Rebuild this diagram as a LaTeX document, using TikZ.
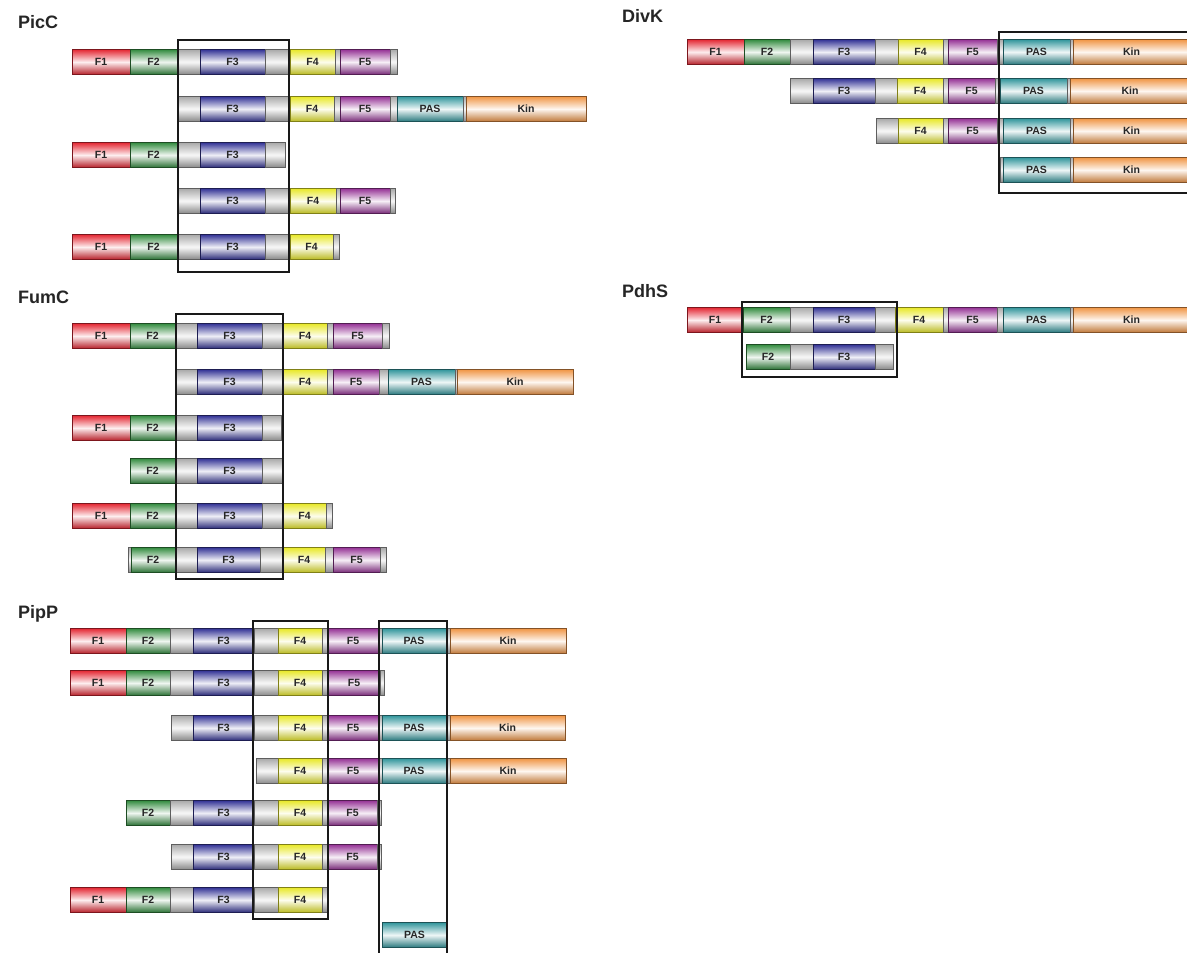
\documentclass[tikz,border=0pt]{standalone}
\usepackage{fontspec}
\setmainfont{Liberation Sans}
\definecolor{cF1}{RGB}{228,40,52}
\definecolor{cF2}{RGB}{52,140,64}
\definecolor{cF3}{RGB}{52,52,150}
\definecolor{cF4}{RGB}{232,232,40}
\definecolor{cF5}{RGB}{150,52,150}
\definecolor{cPAS}{RGB}{50,150,156}
\definecolor{cKin}{RGB}{240,150,70}
\definecolor{cG}{RGB}{170,170,170}
\tikzset{
  seg/.style={draw=#1!55!black, line width=0.7pt, top color=#1, bottom color=#1!80!black,
    middle color=#1!8!white, inner sep=0pt, outer sep=0pt, minimum height=25pt,
    font=\fontsize{10.5}{12}\selectfont\bfseries, text=black!85},
  frame/.style={draw=black!90, line width=1.5pt},
  title/.style={anchor=base west, inner sep=0pt, font=\fontsize{18}{20}\selectfont\bfseries, text=black!85}
}
\newcommand\drow[3]{%
  \foreach \a/\b/\c/\l [count=\i] in {#3}{%
    \node[seg=\c, minimum width={(\b-\a)*1pt}] (#1-\i) at ({(\a+\b)/2},#2) {\l};
  }}
\begin{document}
\begin{tikzpicture}[x=1pt,y=-1pt]
\useasboundingbox (0,0) rectangle (1187,953);
\fill[white] (0,0) rectangle (1187,953);
% ---------- PicC
\node[title] (tPicC) at (18,28) {PicC};
\drow{pc1}{62}{72/130/cF1/F1, 130/177/cF2/F2, 177/200/cG/, 200/265/cF3/F3, 265/290/cG/, 290/335/cF4/F4, 335/340/cG/, 340/390/cF5/F5, 390/397/cG/}
\drow{pc2}{109}{178/200/cG/, 200/265/cF3/F3, 265/290/cG/, 290/334/cF4/F4, 334/340/cG/, 340/390/cF5/F5, 390/397/cG/, 397/463/cPAS/PAS, 463/466/cG/, 466/586/cKin/Kin}
\drow{pc3}{155}{72/130/cF1/F1, 130/177/cF2/F2, 177/200/cG/, 200/265/cF3/F3, 265/285/cG/}
\drow{pc4}{201}{178/200/cG/, 200/265/cF3/F3, 265/290/cG/, 290/336/cF4/F4, 336/340/cG/, 340/390/cF5/F5, 390/395/cG/}
\drow{pc5}{247}{72/130/cF1/F1, 130/177/cF2/F2, 177/200/cG/, 200/265/cF3/F3, 265/290/cG/, 290/333/cF4/F4, 333/339/cG/}
\draw[frame] (178,40) rectangle (289,272);
% ---------- FumC
\node[title] (tFumC) at (18,303) {FumC};
\drow{fc1}{336}{72/130/cF1/F1, 130/175/cF2/F2, 175/197/cG/, 197/262/cF3/F3, 262/283/cG/, 283/327/cF4/F4, 327/333/cG/, 333/382/cF5/F5, 382/389/cG/}
\drow{fc2}{382}{176/197/cG/, 197/262/cF3/F3, 262/283/cG/, 283/327/cF4/F4, 327/333/cG/, 333/379/cF5/F5, 379/388/cG/, 388/455/cPAS/PAS, 455/457/cG/, 457/573/cKin/Kin}
\drow{fc3}{428}{72/130/cF1/F1, 130/175/cF2/F2, 175/197/cG/, 197/262/cF3/F3, 262/281/cG/}
\drow{fc4}{471}{130/175/cF2/F2, 175/197/cG/, 197/262/cF3/F3, 262/282/cG/}
\drow{fc5}{516}{72/130/cF1/F1, 130/175/cF2/F2, 175/197/cG/, 197/262/cF3/F3, 262/283/cG/, 283/326/cF4/F4, 326/332/cG/}
\drow{fc6}{560}{128/131/cG/, 131/175/cF2/F2, 175/197/cG/, 197/260/cF3/F3, 260/283/cG/, 283/325/cF4/F4, 325/333/cG/, 333/380/cF5/F5, 380/386/cG/}
\draw[frame] (176,314) rectangle (283,579);
% ---------- PipP
\node[title] (tPipP) at (18,618) {PipP};
\drow{pp1}{641}{70/126/cF1/F1, 126/170/cF2/F2, 170/193/cG/, 193/254/cF3/F3, 254/278/cG/, 278/322/cF4/F4, 322/328/cG/, 328/378/cF5/F5, 378/382/cG/, 382/446/cPAS/PAS, 446/450/cG/, 450/566/cKin/Kin}
\drow{pp2}{683}{70/126/cF1/F1, 126/170/cF2/F2, 170/193/cG/, 193/254/cF3/F3, 254/278/cG/, 278/322/cF4/F4, 322/328/cG/, 328/380/cF5/F5, 380/384/cG/}
\drow{pp3}{728}{171/193/cG/, 193/254/cF3/F3, 254/278/cG/, 278/322/cF4/F4, 322/328/cG/, 328/378/cF5/F5, 378/382/cG/, 382/446/cPAS/PAS, 446/450/cG/, 450/565/cKin/Kin}
\drow{pp4}{771}{256/278/cG/, 278/322/cF4/F4, 322/328/cG/, 328/378/cF5/F5, 378/382/cG/, 382/446/cPAS/PAS, 446/450/cG/, 450/566/cKin/Kin}
\drow{pp5}{813}{126/170/cF2/F2, 170/193/cG/, 193/254/cF3/F3, 254/278/cG/, 278/322/cF4/F4, 322/328/cG/, 328/377/cF5/F5, 377/381/cG/}
\drow{pp6}{857}{171/193/cG/, 193/254/cF3/F3, 254/278/cG/, 278/322/cF4/F4, 322/328/cG/, 328/377/cF5/F5, 377/381/cG/}
\drow{pp7}{900}{70/126/cF1/F1, 126/170/cF2/F2, 170/193/cG/, 193/254/cF3/F3, 254/278/cG/, 278/322/cF4/F4, 322/328/cG/}
\drow{pp8}{935}{382/447/cPAS/PAS}
\draw[frame] (253,621) rectangle (328,919);
\draw[frame] (379,960) -- (379,621) -- (447,621) -- (447,960);
% ---------- DivK
\node[title] (tDivK) at (622,22) {DivK};
\drow{dk1}{52}{687/744/cF1/F1, 744/790/cF2/F2, 790/813/cG/, 813/875/cF3/F3, 875/898/cG/, 898/943/cF4/F4, 943/948/cG/, 948/997/cF5/F5, 997/1003/cG/, 1003/1070/cPAS/PAS, 1070/1073/cG/, 1073/1190/cKin/Kin}
\drow{dk2}{91}{790/813/cG/, 813/875/cF3/F3, 875/897/cG/, 897/943/cF4/F4, 943/948/cG/, 948/995/cF5/F5, 995/1000/cG/, 1000/1067/cPAS/PAS, 1067/1070/cG/, 1070/1190/cKin/Kin}
\drow{dk3}{131}{876/898/cG/, 898/943/cF4/F4, 943/948/cG/, 948/997/cF5/F5, 997/1003/cG/, 1003/1070/cPAS/PAS, 1070/1073/cG/, 1073/1190/cKin/Kin}
\drow{dk4}{170}{1000/1003/cG/, 1003/1070/cPAS/PAS, 1070/1073/cG/, 1073/1190/cKin/Kin}
\draw[frame] (1195,32) -- (999,32) -- (999,193) -- (1195,193);
% ---------- PdhS
\node[title] (tPdhS) at (622,297) {PdhS};
\drow{pd1}{320}{687/743/cF1/F1, 743/790/cF2/F2, 790/813/cG/, 813/875/cF3/F3, 875/895/cG/, 895/943/cF4/F4, 943/948/cG/, 948/997/cF5/F5, 997/1003/cG/, 1003/1070/cPAS/PAS, 1070/1073/cG/, 1073/1190/cKin/Kin}
\drow{pd2}{357}{746/790/cF2/F2, 790/813/cG/, 813/875/cF3/F3, 875/893/cG/}
\draw[frame] (742,302) rectangle (897,377);
\end{tikzpicture}
\end{document}
